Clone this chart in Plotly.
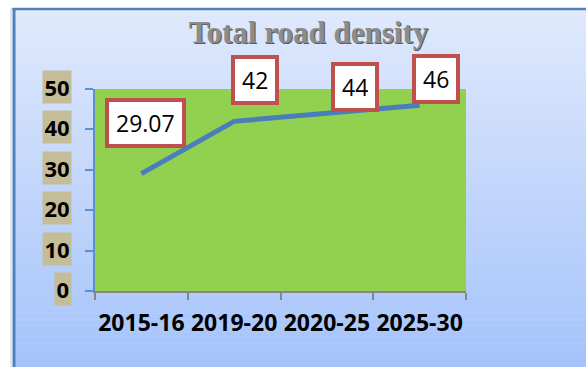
import plotly.graph_objects as go

# ---- data ----
categories = ["2015-16", "2019-20", "2020-25", "2025-30"]
road_density = [29.07, 42, 44, 46]
y_ticks = [0, 10, 20, 30, 40, 50]
title_text = "Total road density"

W, H = 586, 367

def px_x(p):
    return p / W

def px_y(p):
    return 1 - p / H

fig = go.Figure()

fig.add_trace(go.Scatter(
    x=categories, y=road_density, mode="lines",
    line=dict(color="#4a7ebb", width=5),
    hoverinfo="skip", showlegend=False,
))

shapes = []

# chart-area background: vertical gradient, light to deeper blue
top_c = (0xdf, 0xe9, 0xfc)
bot_c = (0xa5, 0xc3, 0xfa)
n = 60
y_top, y_bot = 9, H
for i in range(n):
    t = i / (n - 1)
    c = tuple(round(a + (b - a) * t) for a, b in zip(top_c, bot_c))
    ya = y_top + (y_bot - y_top) * i / n
    yb = y_top + (y_bot - y_top) * (i + 1) / n
    shapes.append(dict(
        type="rect", xref="paper", yref="paper",
        x0=px_x(13), x1=1, y0=px_y(yb + 0.5), y1=px_y(ya),
        fillcolor="rgb(%d,%d,%d)" % c, line=dict(width=0), layer="below",
    ))

# plot-area fill
shapes.append(dict(
    type="rect", xref="x domain", yref="y domain", x0=0, x1=1, y0=0, y1=1,
    fillcolor="#92d050", line=dict(width=0), layer="below",
))

# faint shadow and blue frame of the chart area
shapes.append(dict(type="line", xref="paper", yref="paper",
                   x0=px_x(11), x1=px_x(11), y0=0, y1=px_y(8),
                   line=dict(color="#e6e6e6", width=2), layer="below"))
shapes.append(dict(type="line", xref="paper", yref="paper",
                   x0=px_x(14), x1=px_x(14), y0=0, y1=px_y(8),
                   line=dict(color="#4f81bd", width=3), layer="above"))
shapes.append(dict(type="line", xref="paper", yref="paper",
                   x0=px_x(12.5), x1=1, y0=px_y(9), y1=px_y(9),
                   line=dict(color="#4f81bd", width=2.5), layer="above"))

annotations = []

# y tick labels on tan boxes
for v in y_ticks:
    annotations.append(dict(
        xref="paper", yref="y", x=px_x(71.5), y=v, yshift=2,
        xanchor="right", yanchor="middle", showarrow=False,
        text="<b>%d</b>" % v,
        font=dict(family="Open Sans", size=22, color="#000000"),
        bgcolor="#c4bd97", borderpad=1.5, height=29,
    ))

# data labels in red-bordered white boxes
label_offsets = [(4, 51), (21, 41), (28, 26), (16, 26)]
for cat, v, (dx, dy) in zip(categories, road_density, label_offsets):
    annotations.append(dict(
        xref="x", yref="y", x=cat, y=v, xshift=dx, yshift=dy,
        xanchor="center", yanchor="middle", showarrow=False,
        text=f"{v:g}",
        font=dict(family="Open Sans", size=23, color="#000000"),
        bgcolor="#ffffff", bordercolor="#c0504d", borderwidth=4,
        borderpad=7, height=28,
    ))

fig.update_layout(
    width=W, height=H,
    margin=dict(l=0, r=0, t=0, b=0),
    paper_bgcolor="#ffffff",
    plot_bgcolor="rgba(0,0,0,0)",
    shapes=shapes,
    annotations=annotations,
    title=dict(
        text="<b>%s</b>" % title_text,
        x=px_x(308.5), xanchor="center",
        y=px_y(32), yanchor="middle",
        font=dict(family="Liberation Serif", size=31, color="#8c8c8c",
                  shadow="1px 1px 0px #5a5a5a"),
    ),
    xaxis=dict(
        domain=[px_x(95), px_x(466)],
        type="category", range=[-0.5, 3.5],
        showline=True, linecolor="#868686", linewidth=1.5,
        ticks="outside", tickson="boundaries", ticklen=7,
        tickcolor="#868686", tickwidth=1.5,
        showgrid=False, zeroline=False,
        tickangle=0,
        tickfont=dict(family="Open Sans", size=23, color="#000000", weight="bold"),
        ticklabelstandoff=11,
        automargin=False, fixedrange=True,
    ),
    yaxis=dict(
        domain=[px_y(291), px_y(89)],
        range=[0, 50], tickvals=y_ticks,
        showticklabels=False,
        showline=True, linecolor="#5b8fd0", linewidth=1.5,
        ticks="outside", ticklen=8, tickcolor="#5b8fd0", tickwidth=1.5,
        showgrid=False, zeroline=False,
        automargin=False, fixedrange=True,
    ),
)

fig.write_html("out.html")
